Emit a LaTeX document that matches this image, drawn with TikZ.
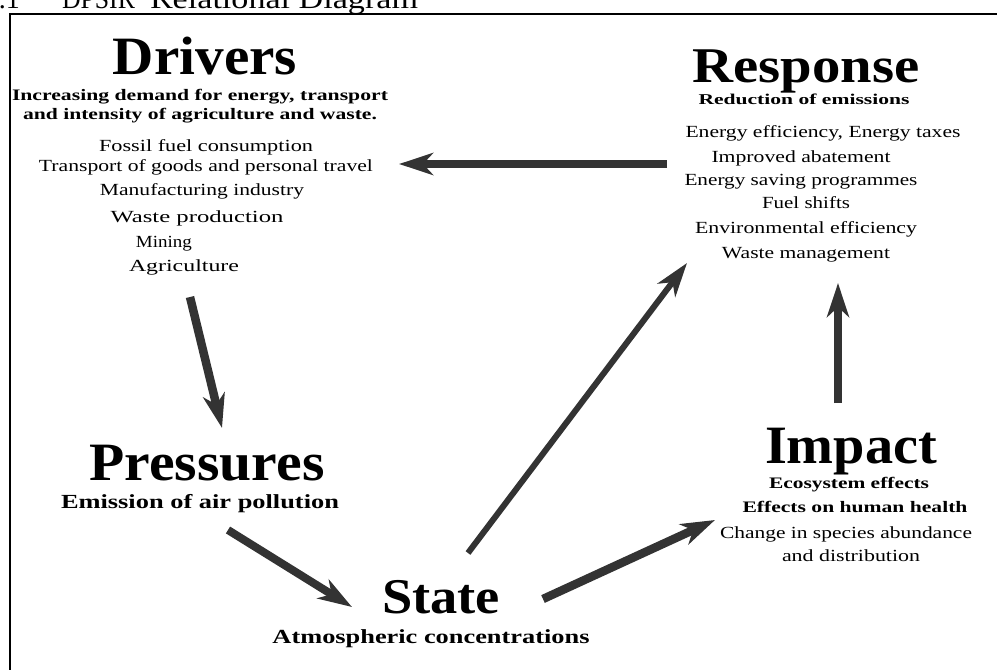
\documentclass[tikz,border=0pt]{standalone}
\usepackage{fontspec}
\setmainfont{Liberation Serif}
\usepackage{graphicx}
\usetikzlibrary{arrows.meta}
\definecolor{arrowgray}{HTML}{333333}
\newcommand\fitw[2]{\resizebox{#1pt}{\height}{#2}}
\tikzset{
  txt/.style={anchor=base, inner sep=0pt, outer sep=0pt, text=black},
  ttl/.style={txt, font=\fontsize{54}{54}\selectfont\bfseries},
  sub/.style={txt, font=\fontsize{16}{16}\selectfont\bfseries},
  itm/.style={txt, font=\fontsize{17}{17}\selectfont},
  head/.style={txt, font=\fontsize{28}{28}\selectfont},
  arr/.style={draw=arrowgray, line width=8.5pt,
    -{Stealth[length=34pt,width=22pt,inset=10pt]}},
  thinarr/.style={arr, line width=6pt}
}
\begin{document}
\begin{tikzpicture}[x=1pt,y=-1pt]
\useasboundingbox (0,0) rectangle (997,670);
\clip (0,0) rectangle (997,670);
% heading (cut at the top)
\node[head, anchor=base east] (h1) at (20,8) {1.1};
\node[head, anchor=base west] (h2) at (62,8) {\fitw{73}{DPSIR}};
\node[head, anchor=base west] (h3) at (150,8) {\fitw{268}{Relational Diagram}};
% frame
\draw[line width=2pt] (10,670) -- (10,14) -- (997,14);
% Drivers
\node[ttl] (d0) at (205,74) {\fitw{184}{Drivers}};
\node[sub] (d1) at (200,100) {\fitw{376}{Increasing demand for energy, transport}};
\node[sub] (d2) at (200,119) {\fitw{354}{and intensity of agriculture and waste.}};
\node[itm] (d3) at (206,151) {\fitw{214}{Fossil fuel consumption}};
\node[itm] (d4) at (206,171) {\fitw{334}{Transport of goods and personal travel}};
\node[itm] (d5) at (202,195) {\fitw{204}{Manufacturing industry}};
\node[itm] (d6) at (197,222) {\fitw{173}{Waste production}};
\node[itm] (d7) at (164,247) {\fitw{56}{Mining}};
\node[itm] (d8) at (184,271) {\fitw{110}{Agriculture}};
% Response
\node[ttl, font=\fontsize{50}{50}\selectfont\bfseries] (r0) at (806,82) {\fitw{227}{Response}};
\node[sub, font=\fontsize{15}{15}\selectfont\bfseries] (r1) at (804,104) {\fitw{211}{Reduction of emissions}};
\node[itm] (r2) at (823,137) {\fitw{275}{Energy efficiency, Energy taxes}};
\node[itm] (r3) at (801,162) {\fitw{179}{Improved abatement}};
\node[itm] (r4) at (801,185) {\fitw{233}{Energy saving programmes}};
\node[itm] (r5) at (806,208) {\fitw{88}{Fuel shifts}};
\node[itm] (r6) at (806,233) {\fitw{222}{Environmental efficiency}};
\node[itm] (r7) at (806,258) {\fitw{168}{Waste management}};
% Pressures
\node[ttl] (p0) at (207,480) {\fitw{235}{Pressures}};
\node[sub, font=\fontsize{20}{20}\selectfont\bfseries] (p1) at (200,508) {\fitw{278}{Emission of air pollution}};
% State
\node[ttl, font=\fontsize{50}{50}\selectfont\bfseries] (s0) at (441,613) {\fitw{118}{State}};
\node[sub, font=\fontsize{20}{20}\selectfont\bfseries] (s1) at (431,643) {\fitw{317}{Atmospheric concentrations}};
% Impact
\node[ttl] (i0) at (851,463) {\fitw{172}{Impact}};
\node[sub] (i1) at (849,488) {\fitw{160}{Ecosystem effects}};
\node[sub] (i2) at (855,512) {\fitw{225}{Effects on human health}};
\node[itm] (i3) at (846,538) {\fitw{252}{Change in species abundance}};
\node[itm] (i4) at (851,561) {\fitw{138}{and distribution}};
% arrow end points
\coordinate (rdA) at (667,164); \coordinate (rdB) at (399,164);
\coordinate (dpA) at (190,297); \coordinate (dpB) at (222,428);
\coordinate (psA) at (228,530); \coordinate (psB) at (352,607);
\coordinate (srA) at (468,553); \coordinate (srB) at (687,263);
\coordinate (siA) at (543,599); \coordinate (siB) at (715,520);
\coordinate (irA) at (838,403); \coordinate (irB) at (838,283);
% arrows
\draw[arr] (rdA) -- (rdB);
\draw[arr] (dpA) -- (dpB);
\draw[arr, line width=8pt] (psA) -- (psB);
\draw[thinarr] (srA) -- (srB);
\draw[arr] (siA) -- (siB);
\draw[arr] (irA) -- (irB);
\end{tikzpicture}
\end{document}
